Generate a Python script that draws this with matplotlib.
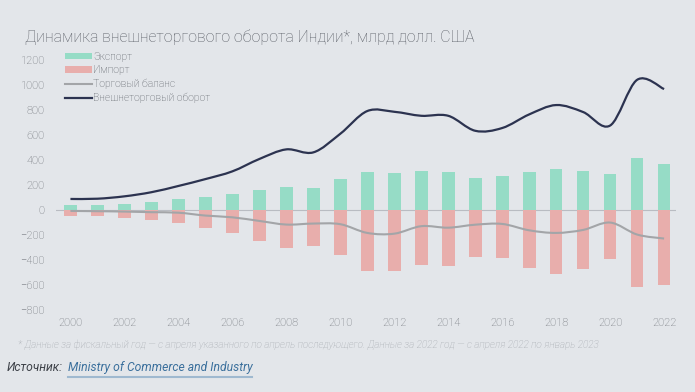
import matplotlib.pyplot as plt
from matplotlib.path import Path
from matplotlib.patches import PathPatch
import numpy as np

years = list(range(2000, 2023))
export = [40, 40, 48, 62, 85, 101, 125, 160, 184, 176, 248, 304, 298, 312, 306,
          258, 272, 301, 328, 312, 290, 416, 370]
imports = [-48, -50, -61, -80, -107, -146, -184, -248, -301, -285, -362, -488,
           -488, -442, -448, -376, -384, -464, -512, -472, -389, -613, -597]
balance = [-8, -10, -13, -18, -22, -45, -59, -88, -117, -109, -114, -184, -190,
           -130, -142, -118, -112, -163, -184, -160, -101, -197, -229]
turnover = [88, 90, 109, 142, 192, 247, 309, 408, 485, 461, 610, 792, 786, 754,
            754, 634, 656, 765, 840, 784, 676, 1042, 968]
yticks = [1200, 1000, 800, 600, 400, 200, 0, -200, -400, -600, -800]

bg = '#e3e6ea'


def smooth_path(xs, ys):
  # Catmull-Rom curve through the points, drawn as cubic Bezier segments
  pts = np.column_stack([xs, ys]).astype(float)
  verts = [pts[0]]
  codes = [Path.MOVETO]
  n = len(pts)
  for i in range(n - 1):
    p0 = pts[max(i - 1, 0)]
    p1 = pts[i]
    p2 = pts[i + 1]
    p3 = pts[min(i + 2, n - 1)]
    c1 = p1 + (p2 - p0) / 6.0
    c2 = p2 - (p3 - p1) / 6.0
    verts += [c1, c2, p2]
    codes += [Path.CURVE4] * 3
  return Path(verts, codes)


fig = plt.figure(figsize=(6.95, 3.92), dpi=100, facecolor=bg)
ax = fig.add_axes([0.080, 0.200, 0.893, 0.669])
ax.set_facecolor(bg)

b1 = ax.bar(years, export, width=0.47, color='#96dcc6', label='Экспорт', zorder=2)
b2 = ax.bar(years, imports, width=0.47, color='#e8aeac', label='Импорт', zorder=2)
ax.axhline(0, color='#b9bcc2', lw=0.8, zorder=1)

ax.add_patch(PathPatch(smooth_path(years, balance), fill=False,
                       edgecolor='#a3a5a8', lw=1.5, zorder=3))
ax.add_patch(PathPatch(smooth_path(years, turnover), fill=False,
                       edgecolor='#2c3350', lw=1.6, zorder=3))
l1, = ax.plot([], [], color='#a3a5a8', lw=1.5, label='Торговый баланс')
l2, = ax.plot([], [], color='#2c3350', lw=1.6, label='Внешнеторговый оборот')

ax.set_xlim(1999.45, 2022.45)
ax.set_ylim(-830, 1270)
ax.set_xticks(years[::2])
ax.set_yticks(yticks)
ax.tick_params(length=0, labelsize=8, colors='#6b6f75', pad=3)
for lab in ax.get_xticklabels() + ax.get_yticklabels():
  lab.set_fontfamily('Roboto')
  lab.set_fontweight('light')
ax.tick_params(axis='y', pad=8)
for s in ax.spines.values():
  s.set_visible(False)

leg = ax.legend(handles=[b1, b2, l1, l2], loc='upper left',
                bbox_to_anchor=(0.0, 1.035), frameon=False,
                handlelength=2.6, handleheight=0.6, handletextpad=0.1,
                labelspacing=0.35, prop={'family': 'Roboto', 'size': 7.5,
                                         'weight': 'light'})
for t in leg.get_texts():
  t.set_color('#555960')

fig.text(0.036, 0.893, 'Динамика внешнеторгового оборота Индии*, млрд долл. США',
         fontsize=11.4, color='#5a5e66', family='Roboto', weight='light')
fig.text(0.026, 0.112,
         '* Данные за фискальный год — с апреля указанного по апрель последующего. '
         'Данные за 2022 год — с апреля 2022 по январь 2023',
         fontsize=7.2, color='#a3a7ad', style='italic', family='Roboto',
         weight='light')
fig.text(0.010, 0.053, 'Источник:', fontsize=8.7, color='#3d4148',
         style='italic', family='Roboto')
fig.text(0.098, 0.053, 'Ministry of Commerce and Industry', fontsize=8.7,
         color='#3a6f9c', style='italic', family='Roboto')
fig.add_artist(plt.Line2D([0.098, 0.362], [0.038, 0.038], color='#9fb9d0',
                          lw=1.5, transform=fig.transFigure))

fig.savefig('out.png', dpi=100, facecolor=bg)
